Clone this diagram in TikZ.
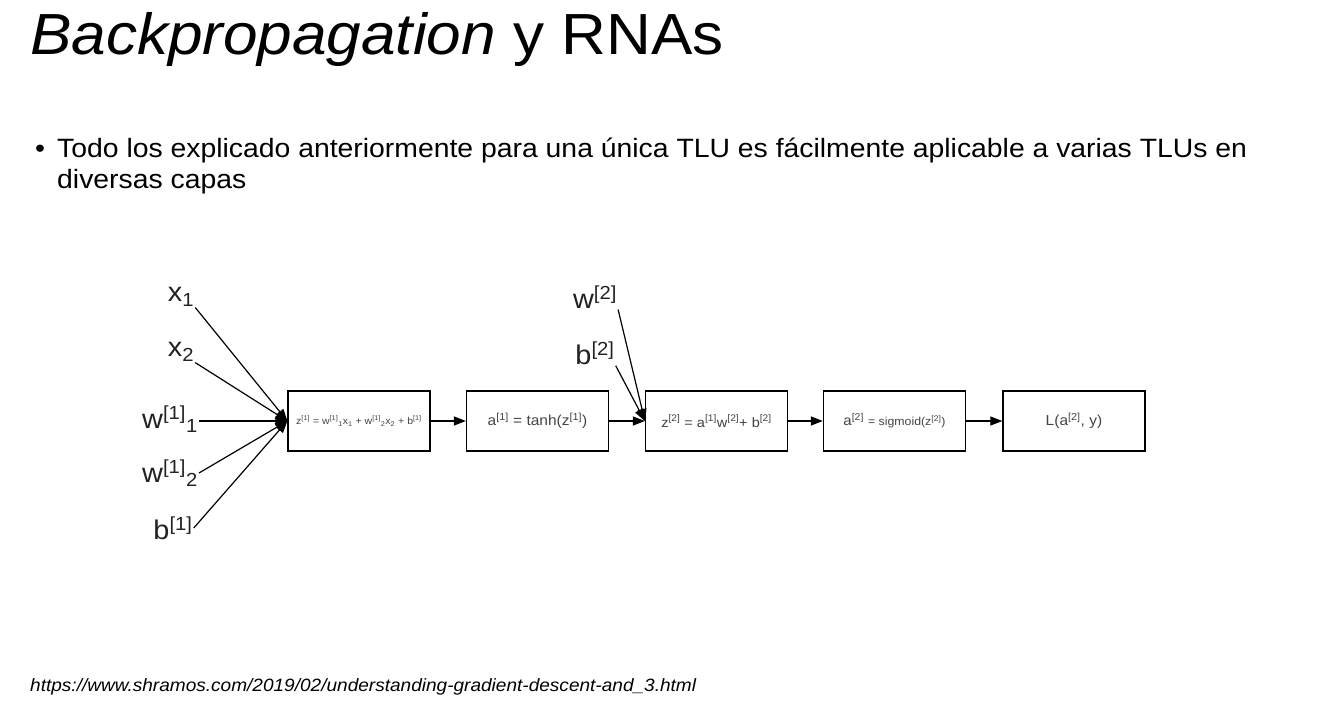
\documentclass[tikz,border=0pt]{standalone}
\usepackage{fontspec}
\setmainfont[FakeStretch=1.07]{Liberation Sans}
\usetikzlibrary{arrows.meta}
\newcommand{\sps}[1]{\textsuperscript{#1}}
\newcommand{\sbs}[1]{\textsubscript{#1}}
\definecolor{boxtext}{HTML}{444444}
\definecolor{labeltext}{HTML}{222222}
\begin{document}
\begin{tikzpicture}[x=1pt,y=-1pt,
  blk/.style={draw, line width=1.3pt, minimum width=142pt, minimum height=60pt,
    inner sep=0pt, font=\fontsize{14.5}{16}\selectfont, text=boxtext},
  lbl/.style={font=\fontsize{27}{29}\selectfont, inner sep=1pt, text=labeltext},
  wire/.style={line width=1.2pt, -{Triangle[length=12pt,width=9pt]}}]
\useasboundingbox[fill=white] (0,0) rectangle (1323,713);

% heading, bullet text and source
\node[anchor=base west, font=\fontsize{58}{62}\selectfont, inner sep=0pt] (title) at (30,54)
  {\textit{Backpropagation} y RNAs};
\node[anchor=base west, font=\fontsize{26.5}{31}\selectfont, inner sep=0pt] (bul) at (35,157) {\textbullet};
\node[anchor=base west, align=left, font=\fontsize{26.5}{31}\selectfont, inner sep=0pt] (txt) at (57,188)
  {Todo los explicado anteriormente para una única TLU es fácilmente aplicable a varias TLUs en\\
   diversas capas};
\node[anchor=base west, font=\fontsize{17.8}{20}\selectfont\itshape, inner sep=0pt] (src) at (30,691)
  {https://www.shramos.com/2019/02/understanding-gradient-descent-and\_3.html};

% computation blocks
\node[blk, font=\fontsize{9.8}{11}\selectfont] (z1) at (359,421)
  {z\sps{[1]} = w\sps{[1]}\sbs{1}x\sbs{1} + w\sps{[1]}\sbs{2}x\sbs{2} + b\sps{[1]}};
\node[blk] (a1) at (537.5,421) {a\sps{[1]} = tanh(z\sps{[1]})};
\node[blk, font=\fontsize{13.6}{15}\selectfont] (z2) at (716.5,421) {z\sps{[2]} = a\sps{[1]}w\sps{[2]}+ b\sps{[2]}};
\node[blk, font=\fontsize{14}{15}\selectfont] (a2) at (894.5,421) {a\sps{[2]} {\fontsize{11.5}{13}\selectfont = sigmoid(z\sps{[2]})}};
\node[blk] (L) at (1074,421) {L(a\sps{[2]}, y)};

% inputs
\node[lbl] (x1) at (181,297) {x\sbs{1}};
\node[lbl] (x2) at (181,352) {x\sbs{2}};
\node[lbl] (w11) at (170,419) {w\sps{[1]}\sbs{1}};
\node[lbl] (w12) at (170,473) {w\sps{[1]}\sbs{2}};
\node[lbl] (b1) at (173,528) {b\sps{[1]}};
\node[lbl] (w2) at (595,297) {w\sps{[2]}};
\node[lbl] (b2) at (595,353) {b\sps{[2]}};

\draw[wire] (x1.south east) -- (z1.west);
\draw[wire] (x2.south east) -- (z1.west);
\draw[wire] (w11.east |- z1.west) -- (z1.west);
\draw[wire] (w12.east) -- (z1.west);
\draw[wire] (b1.east) -- (z1.west);
\draw[wire] (w2.south east) -- (z2.west);
\draw[wire] (b2.south east) -- (z2.west);

\draw[wire] (z1) -- (a1);
\draw[wire] (a1) -- (z2);
\draw[wire] (z2) -- (a2);
\draw[wire] (a2) -- (L);
\end{tikzpicture}
\end{document}
